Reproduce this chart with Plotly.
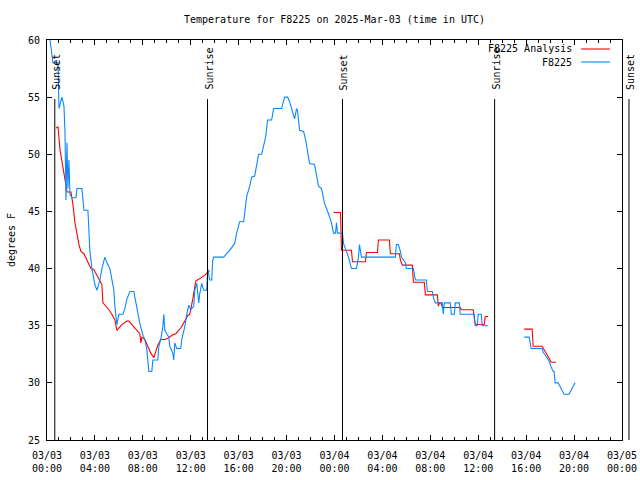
import plotly.graph_objects as go
from datetime import datetime

# ---------------- data ----------------
t_start = "2025-03-03 00:00"
t_end = "2025-03-05 00:00"

obs_times = [
    "2025-03-03 00:15", "2025-03-03 00:25", "2025-03-03 00:30", "2025-03-03 00:55", "2025-03-03 01:00",
    "2025-03-03 01:15", "2025-03-03 01:25", "2025-03-03 01:30", "2025-03-03 01:35", "2025-03-03 01:40",
    "2025-03-03 01:45", "2025-03-03 01:50", "2025-03-03 01:55", "2025-03-03 02:05", "2025-03-03 02:25",
    "2025-03-03 02:30", "2025-03-03 02:55", "2025-03-03 03:05", "2025-03-03 03:25", "2025-03-03 03:35",
    "2025-03-03 03:45", "2025-03-03 04:00", "2025-03-03 04:10", "2025-03-03 04:25", "2025-03-03 04:35",
    "2025-03-03 04:50", "2025-03-03 05:00", "2025-03-03 05:15", "2025-03-03 05:35", "2025-03-03 05:40",
    "2025-03-03 05:50", "2025-03-03 06:00", "2025-03-03 06:20", "2025-03-03 06:30", "2025-03-03 06:40",
    "2025-03-03 06:55", "2025-03-03 07:15", "2025-03-03 07:20", "2025-03-03 07:30", "2025-03-03 07:45",
    "2025-03-03 08:00", "2025-03-03 08:10", "2025-03-03 08:20", "2025-03-03 08:30", "2025-03-03 08:45",
    "2025-03-03 08:50", "2025-03-03 09:15", "2025-03-03 09:20", "2025-03-03 09:30", "2025-03-03 09:40",
    "2025-03-03 09:45", "2025-03-03 09:50", "2025-03-03 10:00", "2025-03-03 10:10", "2025-03-03 10:15",
    "2025-03-03 10:30", "2025-03-03 10:35", "2025-03-03 10:40", "2025-03-03 10:50", "2025-03-03 11:10",
    "2025-03-03 11:15", "2025-03-03 11:30", "2025-03-03 11:40", "2025-03-03 11:50", "2025-03-03 12:00",
    "2025-03-03 12:15", "2025-03-03 12:20", "2025-03-03 12:30", "2025-03-03 12:40", "2025-03-03 12:45",
    "2025-03-03 12:55", "2025-03-03 13:05", "2025-03-03 13:20", "2025-03-03 13:25", "2025-03-03 13:30",
    "2025-03-03 13:35", "2025-03-03 13:45", "2025-03-03 13:50", "2025-03-03 13:55", "2025-03-03 14:45",
    "2025-03-03 15:15", "2025-03-03 15:40", "2025-03-03 15:50", "2025-03-03 16:05", "2025-03-03 16:25",
    "2025-03-03 16:30", "2025-03-03 16:40", "2025-03-03 16:55", "2025-03-03 17:05", "2025-03-03 17:20",
    "2025-03-03 17:30", "2025-03-03 17:40", "2025-03-03 17:55", "2025-03-03 18:05", "2025-03-03 18:15",
    "2025-03-03 18:25", "2025-03-03 18:45", "2025-03-03 18:55", "2025-03-03 19:35", "2025-03-03 19:50",
    "2025-03-03 20:05", "2025-03-03 20:15", "2025-03-03 20:25", "2025-03-03 20:40", "2025-03-03 20:50",
    "2025-03-03 20:55", "2025-03-03 21:05", "2025-03-03 21:25", "2025-03-03 21:35", "2025-03-03 21:45",
    "2025-03-03 21:55", "2025-03-03 22:20", "2025-03-03 22:30", "2025-03-03 22:40", "2025-03-03 22:55",
    "2025-03-03 23:00", "2025-03-03 23:10", "2025-03-03 23:30", "2025-03-03 23:45", "2025-03-03 23:55",
    "2025-03-04 00:05", "2025-03-04 00:10", "2025-03-04 00:15", "2025-03-04 00:40", "2025-03-04 00:45",
    "2025-03-04 01:00", "2025-03-04 01:10", "2025-03-04 01:25", "2025-03-04 01:50", "2025-03-04 02:00",
    "2025-03-04 02:05", "2025-03-04 02:15", "2025-03-04 05:05", "2025-03-04 05:10", "2025-03-04 05:20",
    "2025-03-04 05:30", "2025-03-04 05:35", "2025-03-04 05:55", "2025-03-04 06:00", "2025-03-04 06:35",
    "2025-03-04 06:45", "2025-03-04 07:40", "2025-03-04 07:45", "2025-03-04 08:10", "2025-03-04 08:15",
    "2025-03-04 08:25", "2025-03-04 09:00", "2025-03-04 09:05", "2025-03-04 09:10", "2025-03-04 09:40",
    "2025-03-04 09:45", "2025-03-04 10:00", "2025-03-04 10:05", "2025-03-04 10:25", "2025-03-04 10:30",
    "2025-03-04 11:40", "2025-03-04 11:45", "2025-03-04 11:55", "2025-03-04 12:00", "2025-03-04 12:15",
    "2025-03-04 12:20", "2025-03-04 12:50", None,
    "2025-03-04 15:50", "2025-03-04 16:15", "2025-03-04 16:20", "2025-03-04 16:25", "2025-03-04 17:20",
    "2025-03-04 17:25", "2025-03-04 17:40", "2025-03-04 17:55", "2025-03-04 18:05", "2025-03-04 18:15",
    "2025-03-04 18:20", "2025-03-04 18:25", "2025-03-04 18:40", "2025-03-04 18:50", "2025-03-04 19:05",
    "2025-03-04 19:10", "2025-03-04 19:35", "2025-03-04 19:45", "2025-03-04 19:55", "2025-03-04 20:05",
]
obs_temps = [
    60.0, 58.3, 58.0, 58.0, 54.0,
    55.0, 54.2, 52.0, 46.0, 51.0,
    47.0, 49.5, 46.5, 46.2, 46.2,
    47.0, 47.0, 45.1, 45.1, 41.5,
    40.0, 38.6, 38.1, 39.0, 40.0,
    41.0, 40.5, 40.0, 38.1, 36.7,
    35.1, 36.0, 36.0, 36.5, 37.3,
    38.0, 38.0, 37.5, 36.5, 35.2,
    34.2, 33.8, 32.9, 31.0, 31.0,
    32.0, 32.0, 33.2, 33.8, 34.9,
    36.0, 34.6, 34.3, 34.0, 33.2,
    32.6, 32.0, 33.5, 33.0, 33.0,
    33.8, 34.9, 36.0, 36.8, 36.4,
    36.7, 38.1, 38.7, 37.0, 37.8,
    38.7, 38.1, 38.1, 40.0, 39.5,
    39.0, 39.0, 40.7, 41.0, 41.0,
    41.6, 42.2, 43.1, 44.1, 44.1,
    45.0, 46.3, 47.2, 48.0, 48.1,
    49.1, 50.0, 50.0, 50.7, 51.5,
    53.0, 53.0, 54.0, 54.0, 55.0,
    55.0, 54.6, 53.9, 53.1, 54.0,
    53.8, 52.1, 52.0, 51.3, 50.1,
    49.2, 49.1, 48.0, 47.2, 47.0,
    46.6, 45.7, 44.8, 44.0, 43.1,
    43.1, 44.0, 43.1, 43.1, 42.2,
    41.5, 41.0, 40.0, 40.0, 41.0,
    42.1, 41.0, 41.0, 42.1, 42.1,
    41.5, 41.0, 40.5, 40.0, 40.0,
    39.0, 39.0, 38.0, 38.0, 37.5,
    37.0, 37.0, 36.0, 37.0, 37.0,
    36.0, 36.0, 37.0, 37.0, 36.0,
    36.0, 35.0, 35.0, 36.0, 36.0,
    35.0, 35.0, None,
    34.0, 34.0, 33.5, 33.0, 33.0,
    32.7, 32.3, 31.9, 31.4, 31.0,
    31.0, 30.0, 30.0, 29.7, 29.2,
    29.0, 29.0, 29.4, 29.7, 30.0,
]

ana_times = [
    "2025-03-03 00:45", "2025-03-03 00:55", "2025-03-03 01:05", "2025-03-03 01:15", "2025-03-03 01:30",
    "2025-03-03 01:40", "2025-03-03 02:00", "2025-03-03 02:10", "2025-03-03 02:20", "2025-03-03 02:40",
    "2025-03-03 02:50", "2025-03-03 03:05", "2025-03-03 03:25", "2025-03-03 03:40", "2025-03-03 03:55",
    "2025-03-03 04:15", "2025-03-03 04:35", "2025-03-03 04:40", "2025-03-03 04:50", "2025-03-03 05:10",
    "2025-03-03 05:25", "2025-03-03 05:40", "2025-03-03 05:50", "2025-03-03 06:15", "2025-03-03 06:40",
    "2025-03-03 06:50", "2025-03-03 07:15", "2025-03-03 07:35", "2025-03-03 07:45", "2025-03-03 07:50",
    "2025-03-03 07:55", "2025-03-03 08:10", "2025-03-03 08:30", "2025-03-03 08:40", "2025-03-03 08:55",
    "2025-03-03 09:05", "2025-03-03 09:15", "2025-03-03 09:30", "2025-03-03 09:50", "2025-03-03 10:05",
    "2025-03-03 10:30", "2025-03-03 10:45", "2025-03-03 11:10", "2025-03-03 11:30", "2025-03-03 11:45",
    "2025-03-03 11:55", "2025-03-03 12:05", "2025-03-03 12:10", "2025-03-03 12:25", "2025-03-03 12:35",
    "2025-03-03 12:55", "2025-03-03 13:10", "2025-03-03 13:25", "2025-03-03 13:35", None,
    "2025-03-03 23:55", "2025-03-04 00:30", "2025-03-04 00:35", "2025-03-04 01:25", "2025-03-04 01:30",
    "2025-03-04 02:35", "2025-03-04 02:40", "2025-03-04 03:35", "2025-03-04 03:40", "2025-03-04 04:35",
    "2025-03-04 04:40", "2025-03-04 05:25", "2025-03-04 05:30", "2025-03-04 05:40", "2025-03-04 06:30",
    "2025-03-04 06:35", "2025-03-04 07:30", "2025-03-04 07:35", "2025-03-04 08:35", "2025-03-04 08:40",
    "2025-03-04 08:45", "2025-03-04 08:55", "2025-03-04 09:00", "2025-03-04 10:30", "2025-03-04 10:35",
    "2025-03-04 11:35", "2025-03-04 11:40", "2025-03-04 11:45", "2025-03-04 12:30", "2025-03-04 12:35",
    "2025-03-04 12:50", None,
    "2025-03-04 15:50", "2025-03-04 16:30", "2025-03-04 16:35", "2025-03-04 17:20", "2025-03-04 17:30",
    "2025-03-04 17:45", "2025-03-04 17:55", "2025-03-04 18:05", "2025-03-04 18:30",
]
ana_temps = [
    52.3, 52.4, 50.4, 49.2, 47.8,
    46.7, 46.7, 45.6, 44.0, 42.1,
    41.5, 41.3, 40.6, 40.0, 39.9,
    39.3, 38.6, 37.0, 36.8, 36.4,
    36.0, 35.5, 34.6, 35.1, 35.4,
    35.4, 34.9, 34.5, 34.3, 33.5,
    34.0, 33.8, 33.0, 32.6, 32.2,
    32.7, 33.3, 33.8, 33.8, 33.9,
    34.2, 34.3, 34.8, 35.4, 35.9,
    36.0, 36.7, 37.3, 38.9, 39.0,
    39.2, 39.4, 39.7, 39.8, None,
    44.9, 44.9, 41.6, 41.6, 40.6,
    40.6, 41.4, 41.4, 42.5, 42.5,
    41.3, 41.3, 40.75, 40.3, 40.3,
    38.8, 38.8, 37.7, 37.7, 36.7,
    37.0, 37.0, 36.6, 36.6, 36.4,
    36.4, 35.65, 35.1, 35.1, 35.8,
    35.8, None,
    34.7, 34.7, 33.2, 33.2, 32.9,
    32.5, 32.15, 31.8, 31.8,
]

event_labels = ["Sunset", "Sunrise", "Sunset", "Sunrise", "Sunset"]
event_times = ["2025-03-03 00:39", "2025-03-03 13:24", "2025-03-04 00:40",
               "2025-03-04 13:22", "2025-03-05 00:35"]

legend_names = ["F8225 Analysis", "F8225"]
RED = "#ff0000"
BLUE = "#0a88ff"
FONT = "DejaVu Sans Mono"

# ---------------- figure ----------------
fig = go.Figure()
fig.add_trace(go.Scatter(x=ana_times, y=ana_temps, mode="lines", name=legend_names[0],
                         line=dict(color=RED, width=1.1), connectgaps=False))
fig.add_trace(go.Scatter(x=obs_times, y=obs_temps, mode="lines", name=legend_names[1],
                         line=dict(color=BLUE, width=1.1), connectgaps=False))

fmt = "%Y-%m-%d %H:%M"
t0 = datetime.strptime(t_start, fmt)
t1 = datetime.strptime(t_end, fmt)


def frac(ts):
    return (datetime.strptime(ts, fmt) - t0).total_seconds() / (t1 - t0).total_seconds()


shapes = []
annotations = []
for lab, ts in zip(event_labels, event_times):
    fx = frac(ts)
    shapes.append(dict(type="line", xref="paper", yref="paper", x0=fx, x1=fx, y0=0, y1=0.8525,
                       line=dict(color="black", width=1)))
    annotations.append(dict(xref="paper", yref="paper", x=fx, y=0.87, text=lab, showarrow=False,
                            textangle=-90, xanchor="center", yanchor="bottom", xshift=1,
                            font=dict(family=FONT, size=10, color="black")))

# legend drawn gnuplot-style: text then sample line
leg_y = [0.9775, 0.945]
for name, col, ly in zip(legend_names, [RED, BLUE], leg_y):
    annotations.append(dict(xref="paper", yref="paper", x=0.9166, y=ly, text=name, showarrow=False,
                            xanchor="right", yanchor="middle",
                            font=dict(family=FONT, size=10, color="black")))
    shapes.append(dict(type="line", xref="paper", yref="paper", x0=0.9288, x1=0.979, y0=ly, y1=ly,
                       line=dict(color=col, width=1.1)))

fig.update_layout(
    width=640, height=480,
    margin=dict(l=47, r=18, t=40, b=40, autoexpand=False),
    paper_bgcolor="white", plot_bgcolor="white",
    font=dict(family=FONT, size=10, color="black"),
    showlegend=False,
    title=dict(text="Temperature for F8225 on 2025-Mar-03 (time in UTC)",
               xref="paper", x=0.5, xanchor="center",
               yref="container", y=1 - 19 / 480, yanchor="middle",
               font=dict(family=FONT, size=10, color="black")),
    shapes=shapes,
    annotations=annotations,
    xaxis=dict(type="date", range=[t_start, t_end], tick0=t_start, dtick=4 * 3600 * 1000,
               tickformat="%m/%d<br>%H:%M", ticks="inside", ticklen=5, tickcolor="black",
               showline=True, linecolor="black", linewidth=1, mirror="ticks",
               showgrid=False, zeroline=False, automargin=False,
               ticklabelstandoff=6,
               minor=dict(dtick=3600 * 1000, ticks="inside", ticklen=3, tickcolor="black",
                          showgrid=False),
               tickfont=dict(family=FONT, size=10, color="black")),
    yaxis=dict(range=[25, 60], dtick=5, ticks="inside", ticklen=5, tickcolor="black",
               showline=True, linecolor="black", linewidth=1, mirror="ticks",
               showgrid=False, zeroline=False, automargin=False,
               tickfont=dict(family=FONT, size=10, color="black"),
               ticklabelstandoff=4,
               title=dict(text="degrees F", standoff=10,
                          font=dict(family=FONT, size=10, color="black"))),
)

fig.write_html("out.html", config={"displayModeBar": False},
               post_script="document.body.style.margin='0';")
